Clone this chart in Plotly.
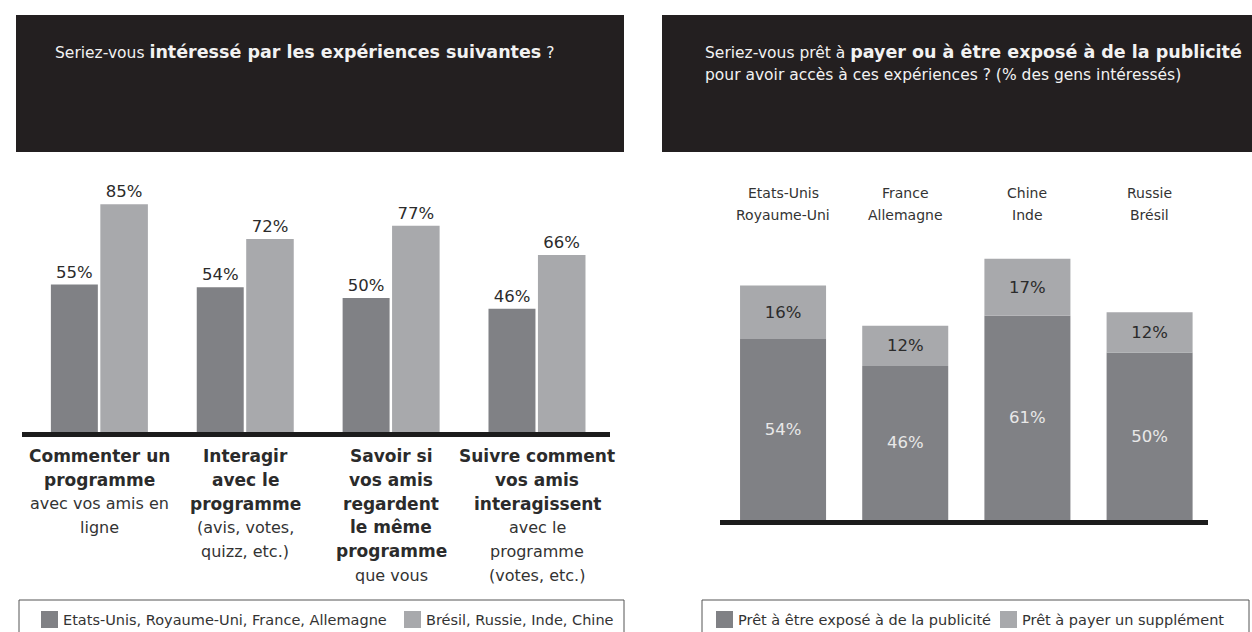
import plotly.graph_objects as go

W, H = 1252, 632

# --- Left panel: interest in each experience (%) ---
activity_lines = [
    [("Commenter un", True), ("programme", True), ("avec vos amis en", False), ("ligne", False)],
    [("Interagir", True), ("avec le", True), ("programme", True), ("(avis, votes,", False), ("quizz, etc.)", False)],
    [("Savoir si", True), ("vos amis", True), ("regardent", True), ("le même", True), ("programme", True), ("que vous", False)],
    [("Suivre comment", True), ("vos amis", True), ("interagissent", True), ("avec le", False), ("programme", False), ("(votes, etc.)", False)],
]
mature_markets = [55, 54, 50, 46]      # Etats-Unis, Royaume-Uni, France, Allemagne
emerging_markets = [85, 72, 77, 66]    # Brésil, Russie, Inde, Chine
left_legend = ["Etats-Unis, Royaume-Uni, France, Allemagne", "Brésil, Russie, Inde, Chine"]

# --- Right panel: willingness to pay / see ads (% of interested people) ---
country_pairs = ["Etats-Unis<br>Royaume-Uni", "France<br>Allemagne", "Chine<br>Inde", "Russie<br>Brésil"]
ready_for_ads = [54, 46, 61, 50]
ready_to_pay = [16, 12, 17, 12]
right_legend = ["Prêt à être exposé à de la publicité", "Prêt à payer un supplément"]

BOLD = '<span style="font-size:17.5px"><b>{}</b></span>'
title_left = "Seriez-vous " + BOLD.format("intéressé par les expériences suivantes") + " ?"
title_right = ["Seriez-vous prêt à " + BOLD.format("payer ou à être exposé à de la publicité"),
               "pour avoir accès à ces expériences ? (% des gens intéressés)"]

DARK = "#808185"
LIGHT = "#a8a9ac"
HEADER = "#231f20"
INK = "#2b2b2b"
FONT = "DejaVu Sans"


def px(x):
    return x / W


def py(y):
    return 1 - y / H


fig = go.Figure()

idx = list(range(4))

# grouped bars, left panel
fig.add_trace(go.Bar(
    x=idx, y=mature_markets, xaxis="x", yaxis="y",
    width=0.322, offset=-0.333, marker=dict(color=DARK, line=dict(width=0)),
    text=[f"{v}%" for v in mature_markets], textposition="outside",
    textfont=dict(family=FONT, size=16.5, color=INK), cliponaxis=False,
    showlegend=False, hoverinfo="skip",
))
fig.add_trace(go.Bar(
    x=idx, y=emerging_markets, xaxis="x", yaxis="y",
    width=0.326, offset=0.006, marker=dict(color=LIGHT, line=dict(width=0)),
    text=[f"{v}%" for v in emerging_markets], textposition="outside",
    textfont=dict(family=FONT, size=16.5, color=INK), cliponaxis=False,
    showlegend=False, hoverinfo="skip",
))

# stacked bars, right panel
fig.add_trace(go.Bar(
    x=idx, y=ready_for_ads, xaxis="x2", yaxis="y2",
    width=0.704, offset=-0.352, marker=dict(color=DARK, line=dict(width=0)),
    text=[f"{v}%" for v in ready_for_ads], textposition="inside",
    insidetextanchor="middle", constraintext="none", textangle=0,
    textfont=dict(family=FONT, size=16.5, color="#e8e8e8"),
    showlegend=False, hoverinfo="skip",
))
fig.add_trace(go.Bar(
    x=idx, y=ready_to_pay, base=ready_for_ads, xaxis="x2", yaxis="y2",
    width=0.704, offset=-0.352, marker=dict(color=LIGHT, line=dict(width=0)),
    text=[f"{v}%" for v in ready_to_pay], textposition="inside",
    insidetextanchor="middle", constraintext="none", textangle=0,
    textfont=dict(family=FONT, size=16.5, color=INK),
    showlegend=False, hoverinfo="skip",
))

shapes = []
annotations = []

# dark header boxes
shapes.append(dict(type="rect", xref="paper", yref="paper", x0=px(16), x1=px(624), y0=py(152), y1=py(15),
                   fillcolor=HEADER, line=dict(width=0), layer="below"))
shapes.append(dict(type="rect", xref="paper", yref="paper", x0=px(662), x1=px(1262), y0=py(152), y1=py(15),
                   fillcolor=HEADER, line=dict(width=0), layer="below"))

annotations.append(dict(text=title_left, xref="paper", yref="paper", x=px(53), y=py(52),
                        xanchor="left", yanchor="middle", showarrow=False,
                        font=dict(family=FONT, size=15.5, color="#f2f2f2")))
for i, line in enumerate(title_right):
    annotations.append(dict(text=line, xref="paper", yref="paper", x=px(703), y=py(52 + 23 * i),
                            xanchor="left", yanchor="middle", showarrow=False,
                            font=dict(family=FONT, size=15.5, color="#f2f2f2")))

# baselines
shapes.append(dict(type="line", xref="paper", yref="paper", x0=px(22), x1=px(610), y0=py(434.5), y1=py(434.5),
                   line=dict(color="#1c1c1c", width=5)))
shapes.append(dict(type="line", xref="paper", yref="paper", x0=px(720), x1=px(1208), y0=py(522.5), y1=py(522.5),
                   line=dict(color="#1c1c1c", width=5)))

# activity labels under the left bars
for i, lines in enumerate(activity_lines):
    for j, (txt, bold) in enumerate(lines):
        annotations.append(dict(
            text=f"<b>{txt}</b>" if bold else txt, xref="x", yref="paper", x=i, y=py(456 + 23.8 * j),
            xanchor="center", yanchor="middle", showarrow=False,
            font=dict(family=FONT, size=17 if bold else 16, color=INK if bold else "#333333"),
        ))

# country labels above the right bars
for i, name in enumerate(country_pairs):
    for j, part in enumerate(name.split("<br>")):
        annotations.append(dict(
            text=part, xref="x2", yref="paper", x=i, y=py(193 + 22.5 * j),
            xanchor="center", yanchor="middle", showarrow=False,
            font=dict(family=FONT, size=14, color="#333333"),
        ))


# legend boxes
def legend_box(x0, x1, items):
    shapes.append(dict(type="rect", xref="paper", yref="paper", x0=px(x0), x1=px(x1), y0=py(645), y1=py(600),
                       fillcolor="white", line=dict(color="#555555", width=1), layer="below"))
    for (sx, tx, color, label) in items:
        shapes.append(dict(type="rect", xref="paper", yref="paper", x0=px(sx), x1=px(sx + 17),
                           y0=py(628), y1=py(611), fillcolor=color, line=dict(width=0)))
        annotations.append(dict(text=label, xref="paper", yref="paper", x=px(tx), y=py(620),
                                xanchor="left", yanchor="middle", showarrow=False,
                                font=dict(family=FONT, size=14.5, color="#333333")))


legend_box(19, 624, [(41, 61, DARK, left_legend[0]), (404, 424, LIGHT, left_legend[1])])
legend_box(702, 1249, [(716, 736, DARK, right_legend[0]), (1000, 1020, LIGHT, right_legend[1])])

fig.update_layout(
    width=W, height=H, margin=dict(l=0, r=0, t=0, b=0),
    paper_bgcolor="white", plot_bgcolor="rgba(0,0,0,0)",
    barmode="overlay", font=dict(family=FONT),
    xaxis=dict(domain=[px(22), px(610)], range=[-0.531, 3.5], visible=False, fixedrange=True),
    yaxis=dict(domain=[py(432), py(164)], range=[0, 100], visible=False, fixedrange=True),
    xaxis2=dict(domain=[px(720), px(1208)], range=[-0.516, 3.478], visible=False, fixedrange=True),
    yaxis2=dict(domain=[py(520), py(185)], range=[0, 100], visible=False, fixedrange=True),
    shapes=shapes, annotations=annotations,
)

fig.write_html("out.html")
